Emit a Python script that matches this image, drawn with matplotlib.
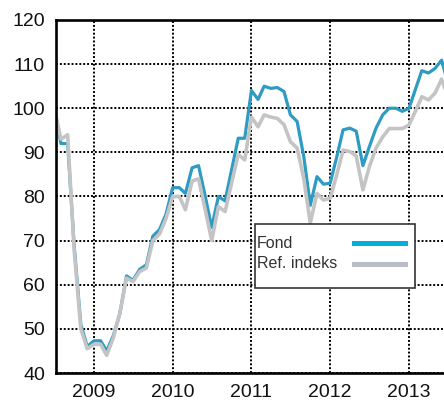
import matplotlib
matplotlib.use('Agg')
import matplotlib.pyplot as plt
import matplotlib.dates as mdates
from matplotlib.lines import Line2D
from matplotlib.patches import Rectangle
import pandas as pd

plt.rcParams['font.family'] = ['Liberation Sans', 'DejaVu Sans']

# monthly index values, Jul 2008 - Jul 2013
dates = pd.date_range('2008-07-01', periods=61, freq='MS')
fond = [100, 92, 92, 69, 51, 46, 47.3, 47.3, 45, 48.5,
        53.5, 62, 61, 63.5, 64.5, 71, 72.5, 76, 82, 82,
        80.7, 86.5, 87, 80, 73, 80, 79, 86, 93.2, 93.2,
        104, 102, 105, 104.5, 104.7, 103.8, 98.5, 97, 89, 78,
        84.5, 82.8, 83, 89, 95.1, 95.5, 94.8, 87, 91.3, 95.5,
        98.5, 100, 100, 99.3, 100, 104.5, 108.5, 108, 109, 110.9,
        105.5]
ref = [100, 93, 94, 68, 50, 45.5, 46.5, 46.5, 44, 48,
       53.5, 61.5, 60.7, 63, 63.8, 70, 71.5, 75, 80, 80,
       77, 83.5, 84, 77, 70, 77.7, 76.6, 83, 89.5, 88.3,
       98, 95.8, 98.5, 98, 97.7, 96.3, 92.4, 91, 84, 74,
       80.7, 79.2, 79.6, 85, 90.5, 90.2, 89.2, 81.5, 86.8, 91,
       93.5, 95.4, 95.4, 95.4, 96.2, 99.5, 102.6, 101.9, 103.4, 106.6,
       102.5]
labels = ['Fond', 'Ref. indeks']
years = [2009, 2010, 2011, 2012, 2013]

fig = plt.figure(figsize=(4.44, 4.0), dpi=100)
ax = fig.add_axes([56/444, 27/400, 388/444, 353/400])

ax.plot(dates, fond, color='#2e9bc2', lw=2.3, solid_joinstyle='round')
ax.plot(dates, ref, color='#c4c4c4', lw=2.6, solid_joinstyle='round')

ax.set_xlim(pd.Timestamp('2008-07-09'), pd.Timestamp('2013-06-12'))
ax.set_ylim(40, 120)
ax.set_yticks(range(40, 121, 10))
ax.set_xticks([pd.Timestamp(f'{y}-01-01') for y in years])
ax.xaxis.set_major_formatter(mdates.DateFormatter('%Y'))
ax.tick_params(length=0, labelsize=14, pad=8, colors='#111111')

ax.grid(True, color='black', linestyle=(0, (1, 1)), lw=1.4)
ax.set_axisbelow(True)
for s in ['left', 'bottom', 'top']:
    ax.spines[s].set_linewidth(1.9)
    ax.spines[s].set_color('black')
ax.spines['right'].set_visible(False)

# legend box (text left, line on the right)
fig.add_artist(Rectangle((255/444, 1 - 288/400), 160/444, 64/400,
                         transform=fig.transFigure, facecolor='white',
                         edgecolor='#333333', lw=1.2, zorder=5))
leg_colors = ['#00b0e0', '#b8bec4']
for i, (lab, c) in enumerate(zip(labels, leg_colors)):
    yy = 1 - (243 + 21 * i) / 400
    fig.text(257/444, yy, lab, fontsize=11.5, color='#333333',
             va='center', ha='left', zorder=6)
    fig.add_artist(Line2D([354/444, 405/444], [yy, yy], transform=fig.transFigure,
                          color=c, lw=3.6, zorder=6))

fig.savefig('out.png', dpi=100)
